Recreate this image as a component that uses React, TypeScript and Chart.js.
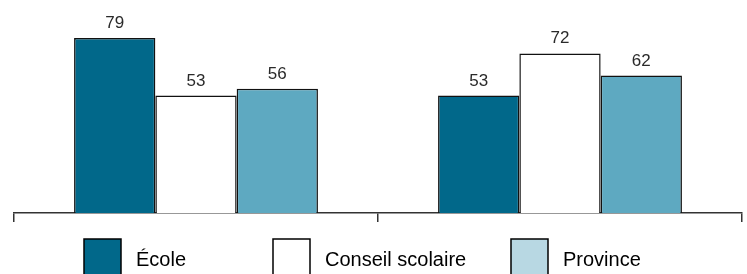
import React, { useEffect, useRef } from "react";
import { Chart, registerables } from "chart.js";

Chart.register(...registerables);

const categories = ["Groupe 1", "Groupe 2"];
const seriesNames = ["École", "Conseil scolaire", "Province"];
const ecoleValues = [79, 53];
const conseilValues = [53, 72];
const provinceValues = [56, 62];

const DARK = "#01688a";
const MID = "#5ea9c1";
const LIGHT = "#b8d8e3";

const valueLabels = {
  id: "valueLabels",
  afterDatasetsDraw(chart: any) {
    const ctx = chart.ctx;
    ctx.save();
    ctx.font = "17px 'Liberation Sans', Arial, sans-serif";
    ctx.fillStyle = "#2a2a2a";
    ctx.textAlign = "center";
    ctx.textBaseline = "alphabetic";
    chart.data.datasets.forEach((ds: any, i: number) => {
      const meta = chart.getDatasetMeta(i);
      meta.data.forEach((bar: any, j: number) => {
        ctx.fillText(String(ds.data[j]), bar.x, bar.y - 10);
      });
    });
    ctx.restore();
  },
};

const customLegend = {
  id: "customLegend",
  afterDraw(chart: any) {
    const ctx = chart.ctx;
    const fills = [DARK, "#ffffff", LIGHT];
    const boxXs = [84, 273, 511];
    const boxW = 37;
    const gap = 15;
    const top = 239;
    ctx.save();
    ctx.font = "20px 'Liberation Sans', Arial, sans-serif";
    seriesNames.forEach((name, i) => {
      const x = boxXs[i];
      ctx.fillStyle = fills[i];
      ctx.fillRect(x, top, boxW, boxW + 4);
      ctx.strokeStyle = "#000000";
      ctx.lineWidth = 1.5;
      ctx.strokeRect(x, top, boxW, boxW + 4);
      ctx.fillStyle = "#000000";
      ctx.textAlign = "left";
      ctx.textBaseline = "alphabetic";
      ctx.fillText(name, x + boxW + gap, 266);
    });
    ctx.restore();
  },
};

export default function App() {
  const ref = useRef<HTMLCanvasElement | null>(null);
  useEffect(() => {
    if (!ref.current) return;
    const chart = new Chart(ref.current, {
      type: "bar",
      data: {
        labels: categories,
        datasets: [
          { label: seriesNames[0], data: ecoleValues, backgroundColor: DARK, borderColor: "#111", borderWidth: 1.5 },
          { label: seriesNames[1], data: conseilValues, backgroundColor: "#ffffff", borderColor: "#111", borderWidth: 1.5 },
          { label: seriesNames[2], data: provinceValues, backgroundColor: MID, borderColor: "#111", borderWidth: 1.5 },
        ],
      },
      options: {
        animation: false,
        responsive: false,
        maintainAspectRatio: false,
        layout: { padding: { left: 14, right: 5, top: 13.5, bottom: 52 } },
        datasets: { bar: { barPercentage: 1, categoryPercentage: 0.67 } },
        plugins: { legend: { display: false }, tooltip: { enabled: false } },
        scales: {
          x: {
            ticks: { display: false },
            grid: { drawOnChartArea: false, drawTicks: true, tickLength: 9, color: "#333", lineWidth: 1.5 },
            border: { display: true, color: "#333", width: 1.5 },
          },
          y: { display: false, min: 0, max: 90 },
        },
      },
      plugins: [valueLabels, customLegend],
    });
    return () => chart.destroy();
  }, []);
  return (
    <div style={{ position: "fixed", left: 0, top: 0, width: 747, height: 274, background: "#fff" }}>
      <canvas ref={ref} width={747} height={274} style={{ width: 747, height: 274 }} />
    </div>
  );
}
